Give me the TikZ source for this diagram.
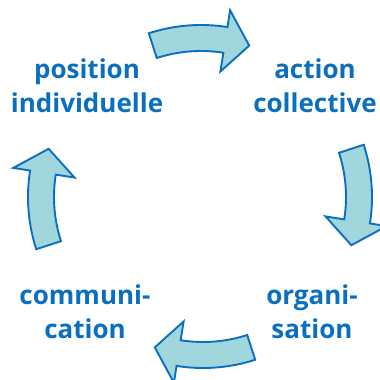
\documentclass[tikz,border=0pt]{standalone}
\usepackage{fontspec}
\setmainfont{Open Sans}
\usepackage{xcolor}
\usepackage{tikz}
\usetikzlibrary{calc}
\definecolor{ink}{HTML}{0B6FC0}
\definecolor{aqua}{HTML}{A1D6DD}
\tikzset{
  arr/.style={draw=ink, fill=aqua, line width=1.9pt, line join=miter},
  lab/.style={text=ink, align=center, font=\fontsize{26}{34}\selectfont\bfseries},
}
\begin{document}
\begin{tikzpicture}[x=1pt,y=1pt]
  \useasboundingbox (0,0) rectangle (380,380);
  \def\ri{143}
  \def\ro{169}
  \coordinate (C) at (200,186);
  \foreach \a/\dx/\dy in {90/1/0,0/3/-3,-90/3/-5,180/-3/-3}
    \draw[arr,shift={(\dx,\dy)}] ([shift={(C)}]\a+18:\ri) arc[start angle=\a+18, end angle=\a-9, radius=\ri]
      -- ([shift={(C)}]\a-9:124) -- ([shift={(C)}]\a-18:156) -- ([shift={(C)}]\a-9:186)
      -- ([shift={(C)}]\a-9:\ro) arc[start angle=\a-9, end angle=\a+18, radius=\ro] -- cycle;
  \node[lab] (pos) at (87,294) {position\\individuelle};
  \node[lab] (act) at (315,294) {action\\collective};
  \node[lab] (org) at (312,68) {organi-\\sation};
  \node[lab] (com) at (85,68) {communi-\\cation};
\end{tikzpicture}
\end{document}
